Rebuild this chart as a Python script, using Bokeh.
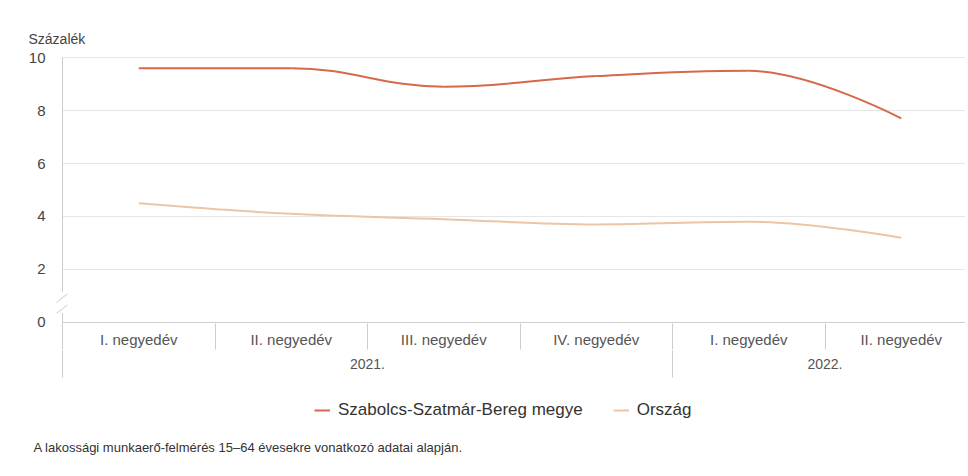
from bokeh.plotting import figure
from bokeh.layouts import column
from bokeh.models import (Range1d, FixedTicker, LinearAxis, Legend, LegendItem,
                          Title, ColumnDataSource)
from bokeh.embed import file_html
from bokeh.resources import INLINE

# ---- data ----
quarters = ["I. negyedév", "II. negyedév", "III. negyedév", "IV. negyedév",
            "I. negyedév", "II. negyedév"]
years = ["2021.", "2022."]
year_counts = [4, 2]
szabolcs = [9.6, 9.6, 8.9, 9.3, 9.5, 7.7]
orszag = [4.5, 4.1, 3.9, 3.7, 3.8, 3.2]
series_names = ["Szabolcs-Szatmár-Bereg megye", "Ország"]
y_ticks = [0, 2, 4, 6, 8, 10]
y_label = "Százalék"
footnote = "A lakossági munkaerő-felmérés 15–64 évesekre vonatkozó adatai alapján."

RED = "#d8684a"
BEIGE = "#ebc5a5"
FONT = "Liberation Sans"

W = 965
H1, H2 = 380, 92
PX_PER_CAT = 152.5
frame_left = 54
x_start = -0.5 - 8 / PX_PER_CAT
x_end = x_start + (W - frame_left) / PX_PER_CAT

p = figure(width=W, height=H1, output_backend="svg", toolbar_location=None,
           x_range=Range1d(x_start, x_end), y_range=Range1d(-0.04, 10.04),
           x_axis_location=None, y_axis_location=None,
           min_border_left=frame_left, min_border_right=0, min_border_top=56,
           min_border_bottom=57,
           outline_line_color=None, background_fill_color="white",
           border_fill_color="white")
p.xgrid.visible = False
p.ygrid.visible = False

n = len(quarters)
xs = list(range(n))

# gridlines
gy = [t for t in y_ticks if t > 0]
p.segment(x0=[-0.5] * len(gy), y0=gy, x1=[x_end] * len(gy), y1=gy,
          line_color="#e6e6e6", line_width=1)

# x axis line
p.segment(x0=[-0.5], y0=[0], x1=[x_end], y1=[0], line_color="#cccccc", line_width=1)

# y axis line with break
dx = 1 / PX_PER_CAT
p.segment(x0=[-0.5, -0.5], y0=[10, 0.36], x1=[-0.5, -0.5], y1=[1.15, 0],
          line_color="#cccccc", line_width=1)
p.segment(x0=[-0.5 - 6 * dx, -0.5 - 6 * dx], y0=[0.76, 0.34],
          x1=[-0.5 + 5 * dx, -0.5 + 5 * dx], y1=[1.08, 0.66],
          line_color="#cccccc", line_width=1)


def spline(xv, yv, smoothing=1.5):
    """Highcharts-like spline control points."""
    m = len(xv)
    denom = smoothing + 1
    lc = [None] * m
    rc = [None] * m
    for i in range(1, m - 1):
        px, py = xv[i], yv[i]
        lx, ly = xv[i - 1], yv[i - 1]
        nx, ny = xv[i + 1], yv[i + 1]
        lcx = (smoothing * px + lx) / denom
        lcy = (smoothing * py + ly) / denom
        rcx = (smoothing * px + nx) / denom
        rcy = (smoothing * py + ny) / denom
        corr = 0
        if rcx != lcx:
            corr = (rcy - lcy) * (rcx - px) / (rcx - lcx) + py - rcy
        lcy += corr
        rcy += corr
        if lcy > ly and lcy > py:
            lcy = max(ly, py); rcy = 2 * py - lcy
        elif lcy < ly and lcy < py:
            lcy = min(ly, py); rcy = 2 * py - lcy
        if rcy > ny and rcy > py:
            rcy = max(ny, py); lcy = 2 * py - rcy
        elif rcy < ny and rcy < py:
            rcy = min(ny, py); lcy = 2 * py - rcy
        lc[i] = (lcx, lcy)
        rc[i] = (rcx, rcy)
    d = dict(x0=[], y0=[], x1=[], y1=[], cx0=[], cy0=[], cx1=[], cy1=[])
    for i in range(1, m):
        a = rc[i - 1] if rc[i - 1] else (xv[i - 1], yv[i - 1])
        b = lc[i] if lc[i] else (xv[i], yv[i])
        d["x0"].append(xv[i - 1]); d["y0"].append(yv[i - 1])
        d["x1"].append(xv[i]); d["y1"].append(yv[i])
        d["cx0"].append(a[0]); d["cy0"].append(a[1])
        d["cx1"].append(b[0]); d["cy1"].append(b[1])
    return ColumnDataSource(d)


p.bezier(x0="x0", y0="y0", x1="x1", y1="y1", cx0="cx0", cy0="cy0",
         cx1="cx1", cy1="cy1", source=spline(xs, orszag), line_color=BEIGE,
         line_width=2)
p.bezier(x0="x0", y0="y0", x1="x1", y1="y1", cx0="cx0", cy0="cy0",
         cx1="cx1", cy1="cy1", source=spline(xs, szabolcs), line_color=RED,
         line_width=2)

# y axis (labels only)
yax = LinearAxis(ticker=FixedTicker(ticks=y_ticks, minor_ticks=[]),
                 axis_line_color=None, major_tick_line_color=None,
                 minor_tick_line_color=None, major_tick_out=0, major_tick_in=0,
                 major_label_standoff=9, major_label_text_font=FONT,
                 major_label_text_font_size="15px",
                 major_label_text_color="#444444")
p.add_layout(yax, "left")

# x axis level 1: quarters
bounds = [i - 0.5 for i in range(n + 1)]
ax1 = LinearAxis(ticker=FixedTicker(ticks=xs, minor_ticks=bounds),
                 major_label_overrides={i: q for i, q in enumerate(quarters)},
                 axis_line_color=None, major_tick_line_color=None,
                 major_tick_out=0, major_tick_in=0,
                 minor_tick_in=0, minor_tick_out=26, minor_tick_line_color="#cccccc",
                 major_label_standoff=-19, major_label_text_font=FONT,
                 major_label_text_font_size="15px",
                 major_label_text_color="#555555")
p.add_layout(ax1, "below")

# x axis level 2: years
centers = []
ybounds = [-0.5]
s = 0
for c in year_counts:
    centers.append(s + c / 2 - 0.5)
    s += c
    ybounds.append(s - 0.5)
ax2 = LinearAxis(ticker=FixedTicker(ticks=centers, minor_ticks=ybounds[:-1]),
                 major_label_overrides={c: yv for c, yv in zip(centers, years)},
                 axis_line_color=None, major_tick_line_color=None,
                 major_tick_out=0, major_tick_in=0,
                 minor_tick_in=0, minor_tick_out=27, minor_tick_line_color="#cccccc",
                 major_label_standoff=-19, major_label_text_font=FONT,
                 major_label_text_font_size="14px",
                 major_label_text_color="#555555")
p.add_layout(ax2, "below")

p.add_layout(Title(text=y_label, align="left", offset=-26,
                   text_font=FONT, text_font_size="14px", text_font_style="normal",
                   text_color="#444444", standoff=20), "above")

# ---- lower figure: legend + footnote ----
p2 = figure(width=W, height=H2, output_backend="svg", toolbar_location=None,
            x_range=Range1d(frame_left, W), y_range=Range1d(0, 52),
            x_axis_location=None, y_axis_location=None,
            min_border_left=frame_left, min_border_right=0, min_border_top=0,
            min_border_bottom=40, outline_line_color=None,
            background_fill_color="white", border_fill_color="white")
p2.xgrid.visible = False
p2.ygrid.visible = False
r1 = p2.line(x=[0, 1], y=[-50, -50], line_color=RED, line_width=2)
r2 = p2.line(x=[0, 1], y=[-50, -50], line_color=BEIGE, line_width=2)
legend = Legend(items=[LegendItem(label=series_names[0], renderers=[r1]),
                       LegendItem(label=series_names[1], renderers=[r2])],
                orientation="horizontal", location=(260, 12),
                glyph_width=16, glyph_height=16, label_standoff=8, spacing=30,
                label_text_font=FONT, label_text_font_size="17px",
                label_text_color="#333333", border_line_color=None,
                background_fill_alpha=0, margin=0, padding=4)
p2.add_layout(legend, "center")
p2.add_layout(Title(text=footnote, align="left", offset=-21,
                    text_font=FONT, text_font_size="13px", text_font_style="normal",
                    text_color="#333333", standoff=10), "below")

open("out.html", "w").write(file_html(column(p, p2, spacing=0), INLINE))
